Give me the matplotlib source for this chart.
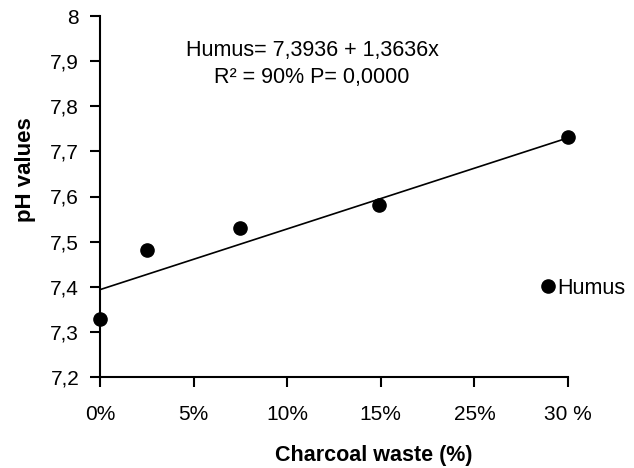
import matplotlib
matplotlib.use("Agg")
import matplotlib.pyplot as plt

plt.rcParams['font.family'] = ['Liberation Sans', 'DejaVu Sans']

# data (x in fractions of the axis 0..0.3, as plotted)
charcoal = [0.0, 0.030, 0.090, 0.179, 0.300]
ph = [7.328, 7.482, 7.531, 7.582, 7.732]
fit_x = [0.0, 0.300]
fit_y = [7.3936, 7.730]
xtick_labels = ["0%", "5%", "10%", "15%", "25%", "30 %"]
ytick_vals = [7.2, 7.3, 7.4, 7.5, 7.6, 7.7, 7.8, 7.9, 8.0]
ytick_labels = ["7,2", "7,3", "7,4", "7,5", "7,6", "7,7", "7,8", "7,9", "8"]

fig = plt.figure(figsize=(6.34, 4.68), dpi=100)
ax = fig.add_axes([100/634, 1 - 377/468, 468/634, 361/468])

ax.plot(fit_x, fit_y, color="black", lw=1.2, zorder=2)
ax.plot(charcoal, ph, "o", color="black", ms=9.5, label="Humus", zorder=3, clip_on=False)

ax.set_xlim(0, 0.3)
ax.set_ylim(7.2, 8.0)
ax.set_xticks([i * 0.06 for i in range(6)])
ax.set_xticklabels(xtick_labels)
ax.set_yticks(ytick_vals)
ax.set_yticklabels(ytick_labels)
ax.tick_params(axis="both", direction="out", length=7, width=1.5, labelsize=15, colors="black")
ax.tick_params(axis="x", pad=13)
ax.tick_params(axis="y", pad=8)

for s in ["top", "right"]:
    ax.spines[s].set_visible(False)
for s in ["left", "bottom"]:
    ax.spines[s].set_linewidth(1.5)

fig.text(25/634, 1 - 170/468, "pH values", fontsize=16, fontweight="bold",
         rotation=90, ha="center", va="center")
fig.text(374/634, 1 - 455/468, "Charcoal waste (%)", fontsize=15.5, fontweight="bold",
         ha="center", va="center")

fig.text(312/634, 1 - 40/468, "Humus= 7,3936 + 1,3636x\nR² = 90% P= 0,0000",
         ha="center", va="top", fontsize=15.5, linespacing=1.35)

ax.legend(loc="center left", bbox_to_anchor=(444/468, -(288 - 377) / 361),
          frameon=False, fontsize=15.5, handlelength=0.4, handletextpad=0.2,
          borderpad=0, borderaxespad=0, markerscale=1.0)

fig.savefig("out.png", dpi=100)
